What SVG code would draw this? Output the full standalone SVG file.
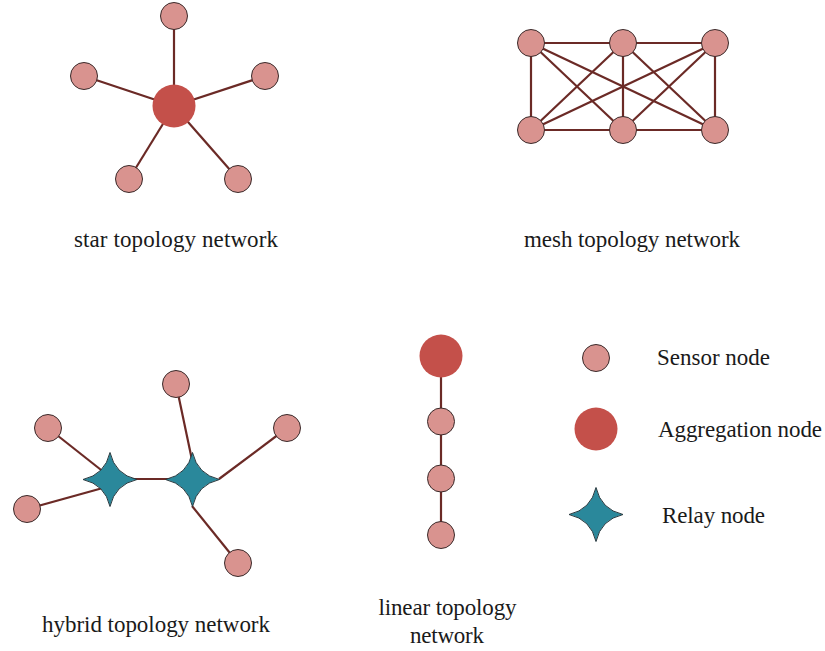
<svg xmlns="http://www.w3.org/2000/svg" width="825" height="651" viewBox="0 0 825 651">
<style>
.s{fill:#D9938F;stroke:#3a2a2a;stroke-width:1}
.a{fill:#C4504A}
.r{fill:#2A889B;stroke:#2a3a40;stroke-width:1}
.e line{stroke:#6B2A26;stroke-width:2.2}
text{font-family:"Liberation Serif","Times New Roman",serif;font-size:23px;fill:#1a1a1a}
</style>
<defs>
<path id="star" d="M0,-27 Q5,-5 27,0 Q5,5 0,27 Q-5,5 -27,0 Q-5,-5 0,-27 Z"/>
</defs>
<rect width="825" height="651" fill="#fff"/>
<g id="connectors" class="e">
<line x1="174" y1="106" x2="174" y2="16"/>
<line x1="174" y1="106" x2="84" y2="76"/>
<line x1="174" y1="106" x2="265" y2="76"/>
<line x1="174" y1="106" x2="129" y2="179"/>
<line x1="174" y1="106" x2="238" y2="179"/>
<line x1="531" y1="43" x2="623" y2="43"/>
<line x1="623" y1="43" x2="715" y2="43"/>
<line x1="531" y1="130" x2="623" y2="130"/>
<line x1="623" y1="130" x2="715" y2="130"/>
<line x1="531" y1="43" x2="531" y2="130"/>
<line x1="623" y1="43" x2="623" y2="130"/>
<line x1="715" y1="43" x2="715" y2="130"/>
<line x1="531" y1="43" x2="623" y2="130"/>
<line x1="531" y1="43" x2="715" y2="130"/>
<line x1="623" y1="43" x2="531" y2="130"/>
<line x1="623" y1="43" x2="715" y2="130"/>
<line x1="715" y1="43" x2="531" y2="130"/>
<line x1="715" y1="43" x2="623" y2="130"/>
<line x1="48" y1="428" x2="110" y2="477"/>
<line x1="27" y1="509" x2="110" y2="486"/>
<line x1="110" y1="479" x2="192" y2="479"/>
<line x1="176" y1="384" x2="192" y2="460"/>
<line x1="287" y1="428" x2="219" y2="479"/>
<line x1="238" y1="563" x2="192" y2="506"/>
<line x1="441" y1="356" x2="441" y2="535"/>
</g>
<g id="star-topology">
<circle class="a" cx="174" cy="106" r="21.5"/>
<circle class="s" cx="174" cy="16" r="13.5"/>
<circle class="s" cx="84" cy="76" r="13.5"/>
<circle class="s" cx="265" cy="76" r="13.5"/>
<circle class="s" cx="129" cy="179" r="13.5"/>
<circle class="s" cx="238" cy="179" r="13.5"/>
<text x="176" y="247" text-anchor="middle" textLength="204">star topology network</text>
</g>
<g id="mesh-topology">
<circle class="s" cx="531" cy="43" r="13.5"/>
<circle class="s" cx="623" cy="43" r="13.5"/>
<circle class="s" cx="715" cy="43" r="13.5"/>
<circle class="s" cx="531" cy="130" r="13.5"/>
<circle class="s" cx="623" cy="130" r="13.5"/>
<circle class="s" cx="715" cy="130" r="13.5"/>
<text x="632" y="247" text-anchor="middle" textLength="216">mesh topology network</text>
</g>
<g id="hybrid-topology">
<circle class="s" cx="176" cy="384" r="13.5"/>
<circle class="s" cx="48" cy="428" r="13.5"/>
<circle class="s" cx="27" cy="509" r="13.5"/>
<circle class="s" cx="287" cy="428" r="13.5"/>
<circle class="s" cx="238" cy="563" r="13.5"/>
<use href="#star" class="r" x="110" y="479.5"/>
<use href="#star" class="r" x="192.5" y="479.5"/>
<text x="156" y="632" text-anchor="middle" textLength="228">hybrid topology network</text>
</g>
<g id="linear-topology">
<circle class="a" cx="441" cy="356" r="21.5"/>
<circle class="s" cx="441" cy="421.5" r="13.5"/>
<circle class="s" cx="441" cy="478.5" r="13.5"/>
<circle class="s" cx="441" cy="535" r="13.5"/>
<text x="447.5" y="615" text-anchor="middle" textLength="138">linear topology</text>
<text x="447" y="643" text-anchor="middle" textLength="74">network</text>
</g>
<g id="legend">
<circle class="s" cx="596" cy="358" r="13.5"/>
<text x="657" y="365" textLength="113">Sensor node</text>
<circle class="a" cx="596" cy="429" r="21.5"/>
<text x="658" y="437" textLength="164">Aggregation node</text>
<use href="#star" class="r" x="596" y="514.5"/>
<text x="662" y="523" textLength="103">Relay node</text>
</g>
</svg>
